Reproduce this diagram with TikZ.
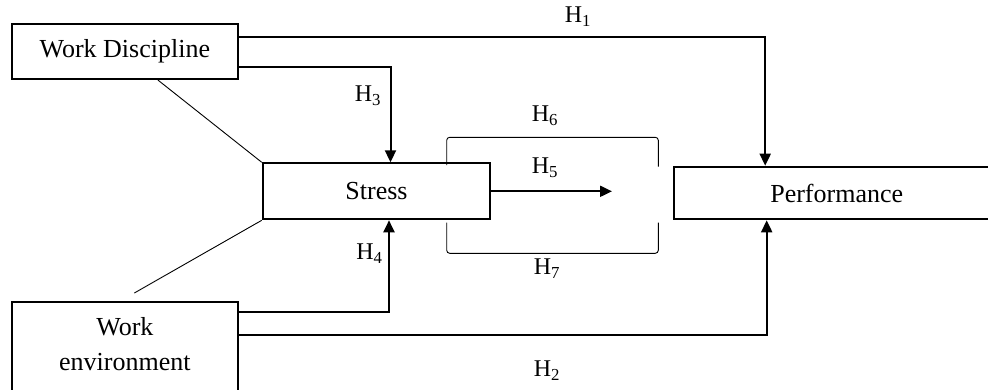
\documentclass[tikz,border=0pt]{standalone}
\usepackage{fontspec}
\setmainfont{Liberation Serif}
\usetikzlibrary{arrows.meta}
\newcommand{\hyp}[1]{H\textsubscript{#1}}

\begin{document}
\begin{tikzpicture}[x=1pt,y=-1pt,font=\fontsize{26}{35}\selectfont,
  box/.style={draw,line width=2pt,inner sep=0pt,align=center},
  link/.style={line width=2pt,-{Triangle[length=12pt,width=11pt]}},
  thin/.style={line width=0.9pt},
  lbl/.style={inner sep=0pt,font=\fontsize{24}{28}\selectfont}]
\useasboundingbox (0,0) rectangle (988,389);
\node[box,minimum width=226.5pt,minimum height=55pt] (disc) at (124.85,51.5) {Work Discipline};
\node[box,minimum width=227.5pt,minimum height=56pt] (stress) at (376.5,191.3) {Stress};
\node[box,minimum width=325pt,minimum height=52.6pt] (perf) at (836.7,193) {Performance};
\node[box,minimum width=226.5pt,minimum height=100pt] (env) at (124.85,351.7) {};
\node[align=center,inner sep=0pt] (envtext) at (124.85,343.7) {Work\\environment};

\draw[link] ([yshift=14.5pt]disc.east) -| ([xshift=-71.5pt]perf.north);
\draw[link] ([yshift=-15pt]disc.east) -| ([xshift=14pt]stress.north);
\draw[link] ([yshift=-11pt]env.north east) -| ([xshift=12.5pt]stress.south);
\draw[link] ([yshift=-34pt]env.north east) -| ([xshift=-70pt]perf.south);
\coordinate (h5end) at (612,191.3);
\draw[link] (stress.east) -- (h5end);

\draw[thin] ([xshift=33pt]disc.south) -- (stress.north west);
\draw[thin] (stress.south west) -- ([shift={(9.5pt,7.7pt)}]env.north);

\draw[thin,rounded corners=3pt] (446.7,165) -- (446.7,137.3) -- (658.3,137.3) -- (658.3,166.7);
\draw[thin,rounded corners=3pt] (446.7,222.7) -- (446.7,253.3) -- (658.3,253.3) -- (658.3,222.7);

\node[lbl] (l1) at (578,17) {\hyp{1}};
\node[lbl] (l3) at (368,96) {\hyp{3}};
\node[lbl] (l6) at (545,116) {\hyp{6}};
\node[lbl] (l5) at (545,168) {\hyp{5}};
\node[lbl] (l7) at (547,269) {\hyp{7}};
\node[lbl] (l4) at (369.5,254) {\hyp{4}};
\node[lbl] (l2) at (547,371) {\hyp{2}};
\end{tikzpicture}
\end{document}
